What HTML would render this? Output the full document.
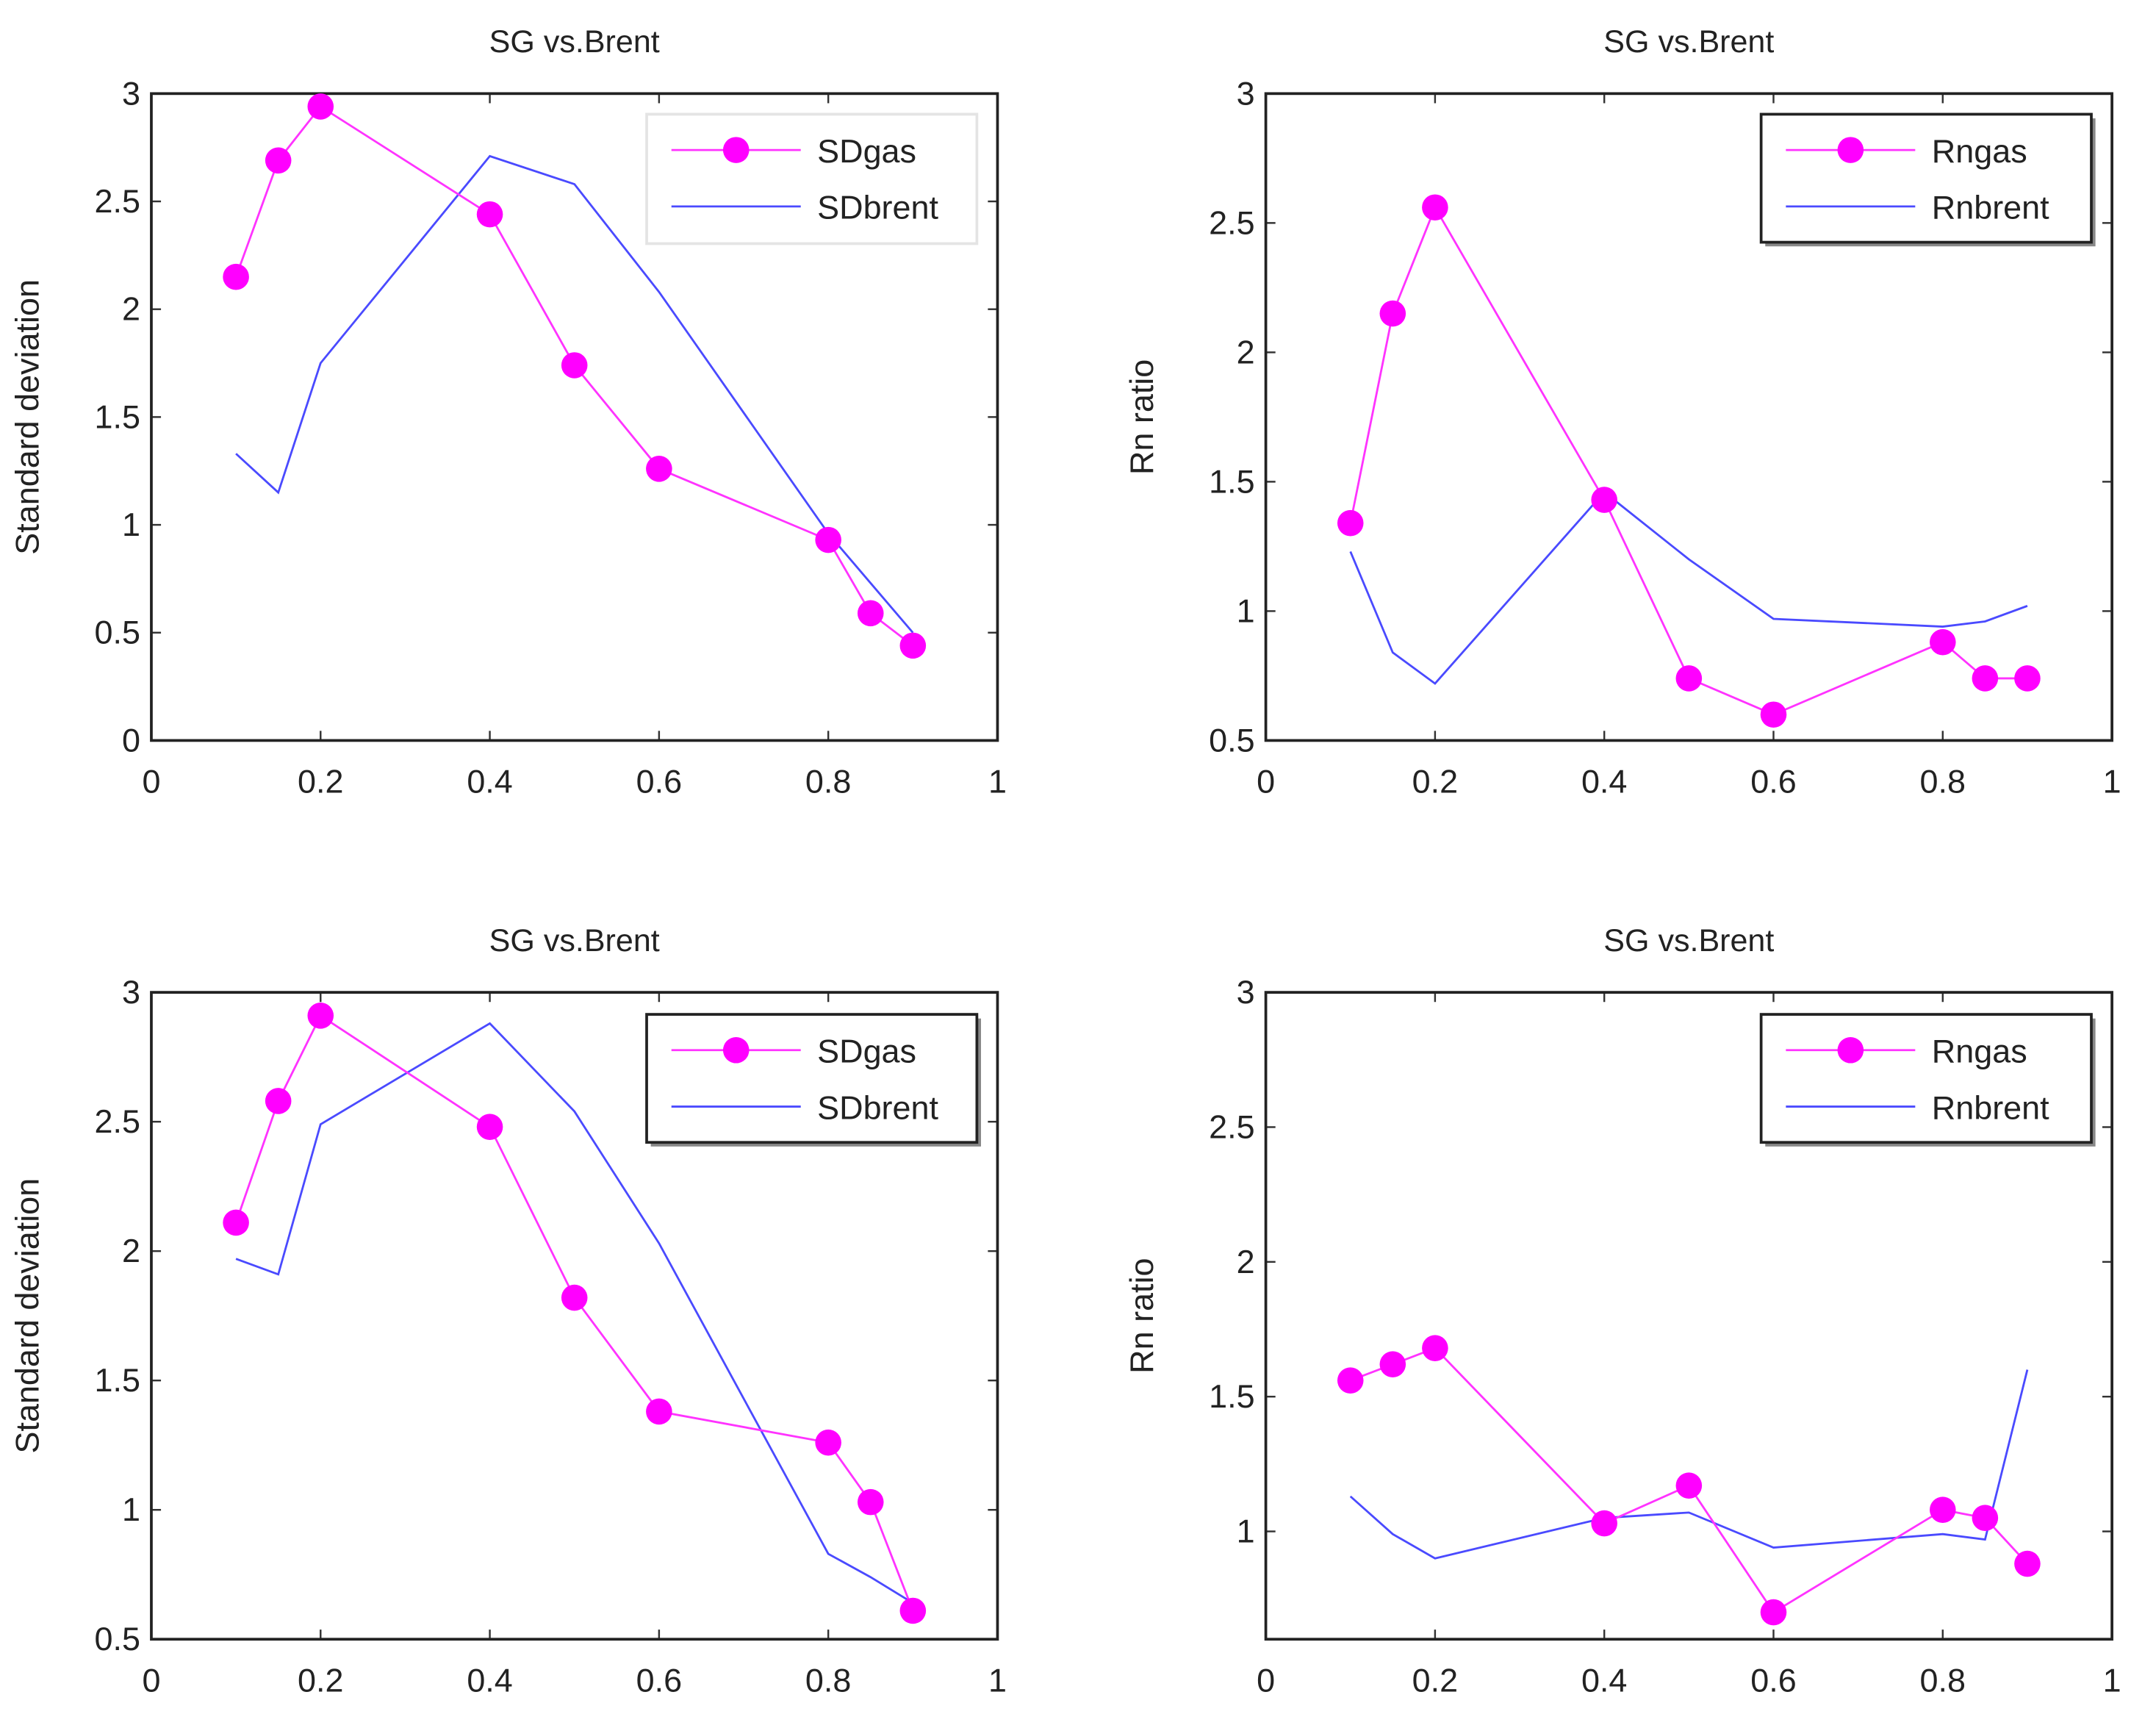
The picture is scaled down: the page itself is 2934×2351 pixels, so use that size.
<!DOCTYPE html>
<html><head><meta charset="utf-8"><style>
html,body{margin:0;padding:0;background:#fff}
svg{display:block}
text{font-family:"Liberation Sans",sans-serif;fill:#222}
</style></head><body>
<svg id="fig" width="2934" height="2351" viewBox="0 0 1567 1255.5" preserveAspectRatio="none" xmlns="http://www.w3.org/2000/svg"></svg>
<script>
const xVals=[0.1,0.15,0.2,0.4,0.5,0.6,0.8,0.85,0.9];
const tlGas=[2.15,2.69,2.94,2.44,1.74,1.26,0.93,0.59,0.44];
const tlBrent=[1.33,1.15,1.75,2.71,2.58,2.08,0.96,0.73,0.5];
const trGas=[1.34,2.15,2.56,1.43,0.74,0.60,0.88,0.74,0.74];
const trBrent=[1.23,0.84,0.72,1.46,1.20,0.97,0.94,0.96,1.02];
const blGas=[2.11,2.58,2.91,2.48,1.82,1.38,1.26,1.03,0.61];
const blBrent=[1.97,1.91,2.49,2.88,2.54,2.03,0.83,0.74,0.64];
const brGas=[1.56,1.62,1.68,1.03,1.17,0.70,1.08,1.05,0.88];
const brBrent=[1.13,0.99,0.90,1.05,1.07,0.94,0.99,0.97,1.60];
const xTicks=[0,0.2,0.4,0.6,0.8,1];
const xTickLabels=["0","0.2","0.4","0.6","0.8","1"];
const yTicksA=[0,0.5,1,1.5,2,2.5,3];
const yTicksB=[0.5,1,1.5,2,2.5,3];
const yTicksC=[1,1.5,2,2.5,3];

const NS="http://www.w3.org/2000/svg";
const svg=document.getElementById('fig');
function mk(tag,attrs,parent){const e=document.createElementNS(NS,tag);for(const k in attrs)e.setAttribute(k,attrs[k]);(parent||svg).appendChild(e);return e;}

const panels=[
 {id:'top-left',x0:110,x1:725,y0:538,y1:68,ymin:0,ymax:3,yt:yTicksA,gas:tlGas,brent:tlBrent,ylab:'Standard deviation',names:['SDgas','SDbrent'],leg:[470,83],legStyle:'light'},
 {id:'top-right',x0:920,x1:1535,y0:538,y1:68,ymin:0.5,ymax:3,yt:yTicksB,gas:trGas,brent:trBrent,ylab:'Rn ratio',names:['Rngas','Rnbrent'],leg:[1280,83],legStyle:'dark'},
 {id:'bottom-left',x0:110,x1:725,y0:1191,y1:721,ymin:0.5,ymax:3,yt:yTicksB,gas:blGas,brent:blBrent,ylab:'Standard deviation',names:['SDgas','SDbrent'],leg:[470,737],legStyle:'dark'},
 {id:'bottom-right',x0:920,x1:1535,y0:1191,y1:721,ymin:0.6,ymax:3,yt:yTicksC,gas:brGas,brent:brBrent,ylab:'Rn ratio',names:['Rngas','Rnbrent'],leg:[1280,737],legStyle:'dark'}
];

panels.forEach(p=>{
 const g=mk('g',{});
 
 
 const sx=v=>p.x0+(p.x1-p.x0)*v;
 const sy=v=>p.y0-(p.y0-p.y1)*(v-p.ymin)/(p.ymax-p.ymin);
 const t=mk('text',{x:(p.x0+p.x1)/2,y:p.y1-30,'text-anchor':'middle','font-size':23},g);
 t.textContent='SG vs.Brent';
 
 
 const yl=mk('text',{x:0,y:0,'text-anchor':'middle','font-size':24,transform:`translate(${p.x0-82},${(p.y0+p.y1)/2}) rotate(-90)`},g);
 yl.textContent=p.ylab;
 
 
 xTicks.forEach((v,i)=>{
  const x=sx(v);
  mk('line',{x1:x,x2:x,y1:p.y0,y2:p.y0-7,stroke:'#333','stroke-width':1.3},g);
  mk('line',{x1:x,x2:x,y1:p.y1,y2:p.y1+7,stroke:'#333','stroke-width':1.3},g);
  const tx=mk('text',{x:x,y:p.y0+38,'text-anchor':'middle','font-size':24},g);
  tx.textContent=xTickLabels[i];
  
  
 });
 p.yt.forEach(v=>{
  const y=sy(v);
  mk('line',{x1:p.x0,x2:p.x0+7,y1:y,y2:y,stroke:'#333','stroke-width':1.3},g);
  mk('line',{x1:p.x1,x2:p.x1-7,y1:y,y2:y,stroke:'#333','stroke-width':1.3},g);
  const ty=mk('text',{x:p.x0-8,y:y+8,'text-anchor':'end','font-size':24},g);
  ty.textContent=String(v);
  
  
 });
 mk('rect',{x:p.x0,y:p.y1,width:p.x1-p.x0,height:p.y0-p.y1,fill:'none',stroke:'#222','stroke-width':2},g);
 const bl=mk('polyline',{points:xVals.map((x,i)=>sx(x)+','+sy(p.brent[i])).join(' '),fill:'none',stroke:'#4a4aff','stroke-width':1.5},g);
 
 
 const gl=mk('polyline',{points:xVals.map((x,i)=>sx(x)+','+sy(p.gas[i])).join(' '),fill:'none',stroke:'#ff33ff','stroke-width':1.5},g);
 
 
 xVals.forEach((x,i)=>{
  const c=mk('circle',{cx:sx(x),cy:sy(p.gas[i]),r:9.5,fill:'#ff00ff'},g);
  
  
 });
 const [lx,ly]=p.leg;
 const lg=mk('g',{},g);
 
 
 if(p.legStyle==='dark'){
  mk('rect',{x:lx+3,y:ly+3,width:240,height:93,fill:'#888'},lg);
  mk('rect',{x:lx,y:ly,width:240,height:93,fill:'#fff',stroke:'#222','stroke-width':2},lg);
 } else {
  mk('rect',{x:lx,y:ly,width:240,height:94,fill:'#fff',stroke:'#e4e4e4','stroke-width':2},lg);
 }
 mk('line',{x1:lx+18,x2:lx+112,y1:ly+26,y2:ly+26,stroke:'#ff33ff','stroke-width':1.5},lg);
 mk('circle',{cx:lx+65,cy:ly+26,r:9.5,fill:'#ff00ff'},lg);
 mk('line',{x1:lx+18,x2:lx+112,y1:ly+67,y2:ly+67,stroke:'#4a4aff','stroke-width':1.5},lg);
 const l1=mk('text',{x:lx+124,y:ly+35,'font-size':24},lg);l1.textContent=p.names[0];
 
 
 const l2=mk('text',{x:lx+124,y:ly+76,'font-size':24},lg);l2.textContent=p.names[1];
 
 
});
</script>
</body></html>
